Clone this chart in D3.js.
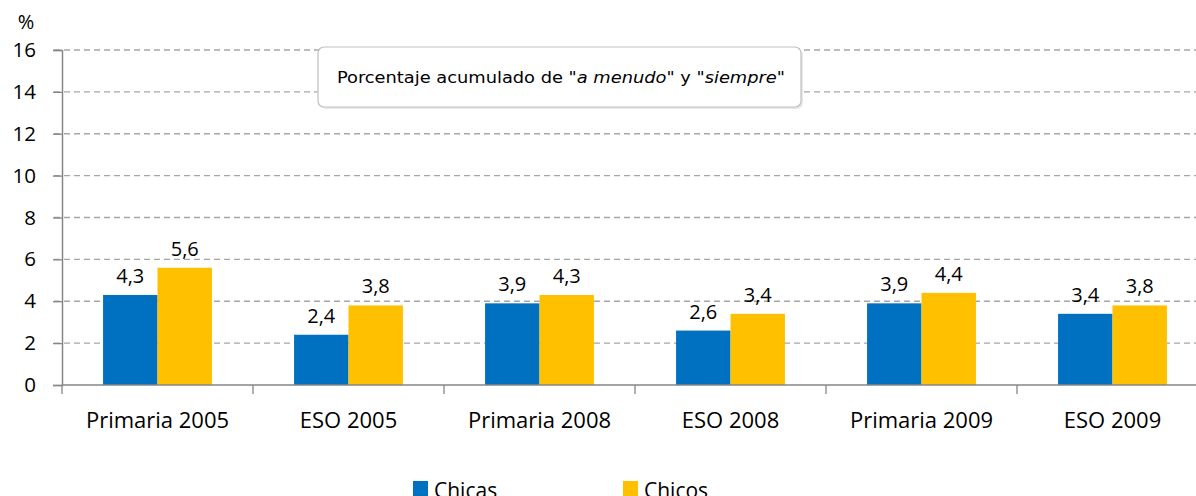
<!DOCTYPE html>
<html>
<head>
<meta charset="utf-8">
<script src="https://cdn.jsdelivr.net/npm/d3@7"></script>
<style>
  body { margin: 0; background: #fff; }
  text { font-family: "Open Sans", "Noto Sans", sans-serif; fill: #000; }
</style>
</head>
<body>
<script>
var categories = ["Primaria 2005", "ESO 2005", "Primaria 2008", "ESO 2008", "Primaria 2009", "ESO 2009"];
var chicas = [4.3, 2.4, 3.9, 2.6, 3.9, 3.4];
var chicos = [5.6, 3.8, 4.3, 3.4, 4.4, 3.8];
var seriesNames = ["Chicas", "Chicos"];
var seriesColors = ["#0070C0", "#FFC000"];
var yTicks = [0, 2, 4, 6, 8, 10, 12, 14, 16];

var W = 1196, H = 496;
var mLeft = 62, mTop = 50, plotH = 335, step = 191;
var mRight = mLeft + step * categories.length;

var svg = d3.select("body").append("svg")
    .attr("width", W)
    .attr("height", H);

var y = d3.scaleLinear().domain([0, 16]).range([mTop + plotH, mTop]);

var x0 = d3.scaleBand()
    .domain(categories)
    .range([mLeft, mRight])
    .paddingInner(0.43)
    .paddingOuter(0.215);

var x1 = d3.scaleBand()
    .domain(seriesNames)
    .range([0, x0.bandwidth()]);

// grid lines (dashed)
svg.append("g").selectAll("line")
    .data(yTicks.filter(function(d) { return d > 0; }))
    .enter().append("line")
    .attr("x1", mLeft - 8)
    .attr("x2", W)
    .attr("y1", function(d) { return y(d); })
    .attr("y2", function(d) { return y(d); })
    .attr("stroke", "#a6a6a6")
    .attr("stroke-width", 1.3)
    .attr("stroke-dasharray", "6,4");

// y axis
var yAxis = svg.append("g")
    .attr("transform", "translate(" + mLeft + ",0)")
    .call(d3.axisLeft(y).tickValues(yTicks).tickSize(9).tickPadding(17));
yAxis.select(".domain").attr("stroke", "#868686").attr("stroke-width", 1.5);
yAxis.selectAll(".tick line").attr("stroke", "#868686").attr("stroke-width", 1.3);
yAxis.selectAll(".tick text")
    .style("font-size", "20.5px")
    .style("font-family", "'Open Sans', 'Noto Sans', sans-serif")
    .attr("fill", "#000");

svg.append("text")
    .attr("x", 26)
    .attr("y", 29)
    .attr("text-anchor", "middle")
    .style("font-size", "20px")
    .text("%");

// title box
var box = svg.append("g");
box.append("rect")
    .attr("x", 320).attr("y", 49)
    .attr("width", 483).attr("height", 60)
    .attr("rx", 6)
    .attr("fill", "#e8e8e8");
box.append("rect")
    .attr("x", 318).attr("y", 47)
    .attr("width", 483).attr("height", 60)
    .attr("rx", 6)
    .attr("fill", "#fff")
    .attr("stroke", "#c0c0c0")
    .attr("stroke-width", 1.2);
var title = box.append("text")
    .attr("x", 337)
    .attr("y", 83)
    .style("font-size", "16px")
    .style("font-family", "'Liberation Sans Narrow', 'DejaVu Sans Condensed', sans-serif")
    .attr("textLength", 448)
    .attr("lengthAdjust", "spacingAndGlyphs");
title.append("tspan").text("Porcentaje acumulado de \"");
title.append("tspan").style("font-style", "italic").text("a menudo");
title.append("tspan").text("\" y \"");
title.append("tspan").style("font-style", "italic").text("siempre");
title.append("tspan").text("\"");

// bars
var groups = svg.append("g").selectAll("g")
    .data(categories)
    .enter().append("g")
    .attr("transform", function(d) { return "translate(" + x0(d) + ",0)"; });

groups.selectAll("rect")
    .data(function(d, i) { return [chicas[i], chicos[i]].map(function(v, j) { return { s: seriesNames[j], v: v, c: seriesColors[j] }; }); })
    .enter().append("rect")
    .attr("x", function(d) { return x1(d.s); })
    .attr("y", function(d) { return y(d.v); })
    .attr("width", x1.bandwidth())
    .attr("height", function(d) { return y(0) - y(d.v); })
    .attr("fill", function(d) { return d.c; });

groups.selectAll("text")
    .data(function(d, i) { return [chicas[i], chicos[i]].map(function(v, j) { return { s: seriesNames[j], v: v }; }); })
    .enter().append("text")
    .attr("x", function(d) { return x1(d.s) + x1.bandwidth() / 2; })
    .attr("y", function(d) { return y(d.v) - 12; })
    .attr("text-anchor", "middle")
    .style("font-size", "20px")
    .text(function(d) { return d3.format(".1f")(d.v).replace(".", ","); });

// x axis
var xTickPos = d3.range(categories.length + 1).map(function(i) { return mLeft + i * step; });
svg.append("line")
    .attr("x1", mLeft).attr("x2", W)
    .attr("y1", y(0)).attr("y2", y(0))
    .attr("stroke", "#868686").attr("stroke-width", 1.5);
svg.append("g").selectAll("line")
    .data(xTickPos)
    .enter().append("line")
    .attr("x1", function(d) { return d; })
    .attr("x2", function(d) { return d; })
    .attr("y1", y(0))
    .attr("y2", y(0) + 9)
    .attr("stroke", "#868686").attr("stroke-width", 1.3);

svg.append("g").selectAll("text")
    .data(categories)
    .enter().append("text")
    .attr("x", function(d) { return x0(d) + x0.bandwidth() / 2; })
    .attr("y", 428)
    .attr("text-anchor", "middle")
    .style("font-size", "22px")
    .text(function(d) { return d; });

// legend
var legendX = [413, 623];
var legend = svg.append("g").selectAll("g")
    .data(seriesNames)
    .enter().append("g")
    .attr("transform", function(d, i) { return "translate(" + legendX[i] + ",481)"; });
legend.append("rect")
    .attr("width", 15).attr("height", 15)
    .attr("fill", function(d, i) { return seriesColors[i]; });
legend.append("text")
    .attr("x", 21)
    .attr("y", 17)
    .style("font-size", "21px")
    .text(function(d) { return d; });
</script>
</body>
</html>
